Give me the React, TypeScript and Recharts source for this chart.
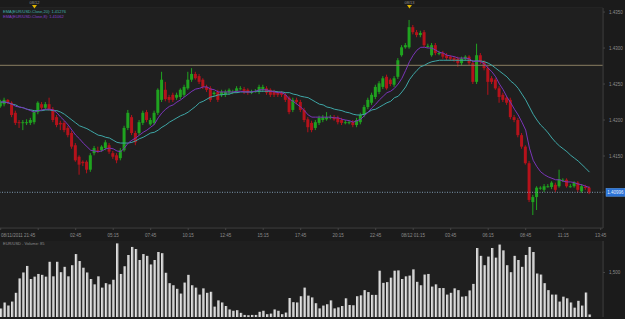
import React from "react";
import {
  ComposedChart,
  BarChart,
  Bar,
  Line,
  XAxis,
  YAxis,
  CartesianGrid,
  ReferenceLine,
} from "recharts";

// EUR/USD 15-minute candles
const opens = [
  1.4219, 1.4222, 1.4228, 1.4224, 1.421, 1.4197, 1.4196, 1.4197, 1.4196, 1.4197,
  1.4211, 1.4222, 1.4217, 1.4222, 1.4215, 1.4204, 1.4196, 1.4196, 1.4189, 1.4182,
  1.4165, 1.4149, 1.4142, 1.4142, 1.4131, 1.4154, 1.4158, 1.4158, 1.4161, 1.4165,
  1.4154, 1.4151, 1.4147, 1.4158, 1.4189, 1.4204, 1.4182, 1.4182, 1.4196, 1.4211,
  1.4194, 1.4196, 1.421, 1.4228, 1.4242, 1.4232, 1.4235, 1.4231, 1.4232, 1.4235,
  1.4244, 1.4256, 1.4264, 1.4261, 1.4256, 1.4246, 1.4244, 1.4236, 1.4239, 1.4235,
  1.4235, 1.4238, 1.4239, 1.424, 1.4244, 1.4243, 1.4242, 1.4239, 1.424, 1.4239,
  1.4242, 1.4244, 1.4242, 1.4239, 1.4238, 1.4238, 1.4235, 1.4231, 1.4214, 1.4228,
  1.4225, 1.4214, 1.4201, 1.4196, 1.4189, 1.4196, 1.42, 1.4201, 1.4204, 1.4204,
  1.4203, 1.42, 1.4197, 1.4197, 1.4197, 1.4193, 1.4197, 1.4207, 1.4218, 1.4224,
  1.4232, 1.4239, 1.4246, 1.426, 1.4256, 1.4249, 1.426, 1.429, 1.4301, 1.4301,
  1.4329, 1.4322, 1.4318, 1.4322, 1.4303, 1.429, 1.4304, 1.4293, 1.4293, 1.429,
  1.4288, 1.4286, 1.4285, 1.4279, 1.4285, 1.4288, 1.4279, 1.4253, 1.429, 1.4281,
  1.4272, 1.4258, 1.4256, 1.4244, 1.4235, 1.4231, 1.4228, 1.4204, 1.42, 1.4179,
  1.4163, 1.414, 1.4086, 1.4093, 1.4106, 1.4103, 1.4108, 1.4107, 1.411, 1.4108,
  1.4117, 1.4117, 1.4108, 1.4108, 1.4113, 1.4101, 1.4107, 1.4106,
];

const highs = [
  1.4228, 1.4231, 1.4229, 1.4226, 1.4213, 1.42, 1.42, 1.4201, 1.4203, 1.4214,
  1.4226, 1.4225, 1.4225, 1.4231, 1.4218, 1.4207, 1.4199, 1.4199, 1.4192, 1.4185,
  1.4168, 1.4151, 1.4144, 1.4144, 1.4154, 1.4164, 1.4163, 1.4165, 1.4172, 1.4168,
  1.4157, 1.4154, 1.4161, 1.4192, 1.4214, 1.4207, 1.4185, 1.42, 1.4213, 1.4214,
  1.4203, 1.4213, 1.4244, 1.4267, 1.4253, 1.4235, 1.4238, 1.4238, 1.4244, 1.4249,
  1.4267, 1.4272, 1.4267, 1.4264, 1.4258, 1.4249, 1.4247, 1.424, 1.4242, 1.4242,
  1.4242, 1.4244, 1.4242, 1.4247, 1.4247, 1.4246, 1.4244, 1.4242, 1.4243, 1.4249,
  1.4249, 1.4247, 1.4244, 1.4242, 1.424, 1.424, 1.4238, 1.4233, 1.4231, 1.4231,
  1.4228, 1.4217, 1.4204, 1.4199, 1.42, 1.4206, 1.4207, 1.4211, 1.4207, 1.4207,
  1.4206, 1.4203, 1.42, 1.42, 1.42, 1.4203, 1.421, 1.4221, 1.4231, 1.4238,
  1.4249, 1.4254, 1.4261, 1.4263, 1.4258, 1.4261, 1.4286, 1.4304, 1.4307, 1.4339,
  1.4332, 1.4325, 1.4324, 1.4325, 1.4306, 1.4307, 1.4307, 1.4296, 1.4296, 1.4293,
  1.429, 1.4289, 1.4288, 1.4288, 1.429, 1.429, 1.4282, 1.4306, 1.4293, 1.4283,
  1.4275, 1.4261, 1.4258, 1.4247, 1.4238, 1.4233, 1.4231, 1.4207, 1.4203, 1.4182,
  1.4165, 1.4143, 1.4096, 1.4108, 1.4108, 1.4111, 1.4111, 1.4115, 1.4113, 1.4131,
  1.4119, 1.4119, 1.4111, 1.4115, 1.4115, 1.4111, 1.411, 1.4108,
];

const lows = [
  1.4217, 1.4219, 1.4222, 1.4204, 1.4193, 1.4189, 1.4186, 1.4193, 1.4193, 1.4194,
  1.4208, 1.4214, 1.4214, 1.4213, 1.4197, 1.419, 1.4186, 1.4183, 1.4176, 1.416,
  1.4142, 1.4124, 1.4136, 1.4126, 1.4128, 1.4151, 1.4154, 1.4156, 1.4158, 1.4153,
  1.4146, 1.414, 1.4144, 1.4156, 1.4186, 1.4179, 1.4165, 1.4179, 1.4193, 1.4197,
  1.4192, 1.4193, 1.4207, 1.4225, 1.4226, 1.4224, 1.4225, 1.4228, 1.4229, 1.4232,
  1.4242, 1.4253, 1.4256, 1.425, 1.4243, 1.4239, 1.4225, 1.4233, 1.4225, 1.4232,
  1.4232, 1.4235, 1.4236, 1.4238, 1.4242, 1.4236, 1.4235, 1.4236, 1.4238, 1.4236,
  1.4239, 1.4235, 1.4232, 1.4232, 1.4232, 1.4232, 1.4225, 1.4208, 1.4211, 1.4222,
  1.4211, 1.4197, 1.4183, 1.4183, 1.4186, 1.4193, 1.4197, 1.4199, 1.4201, 1.4199,
  1.4194, 1.4193, 1.4194, 1.4194, 1.419, 1.419, 1.4194, 1.4204, 1.4215, 1.4221,
  1.4229, 1.4236, 1.4243, 1.4242, 1.4247, 1.4246, 1.4257, 1.4288, 1.4299, 1.4299,
  1.4319, 1.4315, 1.4315, 1.4301, 1.43, 1.4288, 1.429, 1.429, 1.4285, 1.4283,
  1.4282, 1.4281, 1.4274, 1.4276, 1.4282, 1.4276, 1.425, 1.425, 1.4278, 1.4269,
  1.4235, 1.425, 1.4242, 1.4224, 1.4225, 1.4221, 1.4201, 1.4197, 1.4176, 1.416,
  1.4138, 1.4086, 1.4068, 1.4075, 1.4103, 1.41, 1.4106, 1.4104, 1.41, 1.4106,
  1.4114, 1.4106, 1.4106, 1.4106, 1.41, 1.4099, 1.4103, 1.4097,
];

const closes = [
  1.4225, 1.4228, 1.4225, 1.4207, 1.4196, 1.4196, 1.4197, 1.4197, 1.42, 1.4211,
  1.4224, 1.4217, 1.4222, 1.4215, 1.42, 1.4193, 1.4194, 1.4186, 1.4179, 1.4163,
  1.4144, 1.4138, 1.414, 1.4131, 1.4151, 1.4161, 1.4157, 1.4163, 1.4169, 1.4156,
  1.4149, 1.4144, 1.4158, 1.4189, 1.421, 1.4182, 1.4169, 1.4197, 1.421, 1.42,
  1.42, 1.421, 1.4242, 1.4256, 1.4229, 1.4228, 1.4228, 1.4235, 1.4242, 1.4246,
  1.4256, 1.4264, 1.4258, 1.4253, 1.4246, 1.4242, 1.4228, 1.4238, 1.4228, 1.4239,
  1.4239, 1.4242, 1.4239, 1.4244, 1.4244, 1.4239, 1.4238, 1.4239, 1.424, 1.4246,
  1.4246, 1.4238, 1.4235, 1.4235, 1.4235, 1.4235, 1.4228, 1.4211, 1.4228, 1.4225,
  1.4214, 1.42, 1.419, 1.4186, 1.4197, 1.4203, 1.4204, 1.4204, 1.4204, 1.4201,
  1.4197, 1.4196, 1.4197, 1.4197, 1.4193, 1.42, 1.4207, 1.4218, 1.4228, 1.4235,
  1.4246, 1.4251, 1.4258, 1.4244, 1.425, 1.4258, 1.4283, 1.4301, 1.4304, 1.4329,
  1.4322, 1.4318, 1.4321, 1.4304, 1.4303, 1.4304, 1.4293, 1.4293, 1.4288, 1.4286,
  1.4285, 1.4283, 1.4279, 1.4285, 1.4288, 1.4279, 1.4253, 1.429, 1.4281, 1.4272,
  1.4253, 1.4253, 1.4244, 1.4232, 1.4228, 1.4224, 1.4204, 1.42, 1.4179, 1.4163,
  1.414, 1.4089, 1.4093, 1.4106, 1.4106, 1.4108, 1.4108, 1.4113, 1.4103, 1.4118,
  1.4117, 1.4108, 1.4108, 1.4113, 1.4103, 1.4108, 1.4106, 1.40996,
];

// moving averages as drawn on the chart
const ema20 = [
  1.4225, 1.4225, 1.4224, 1.4222, 1.4221, 1.4218, 1.4217, 1.4215, 1.4214, 1.4213,
  1.4213, 1.4213, 1.4214, 1.4214, 1.4213, 1.4213, 1.4211, 1.4208, 1.4204, 1.42,
  1.4196, 1.4192, 1.419, 1.4188, 1.4185, 1.4182, 1.4179, 1.4178, 1.4176, 1.4175,
  1.4172, 1.4169, 1.4168, 1.4168, 1.4168, 1.4169, 1.4171, 1.4174, 1.4176, 1.4179,
  1.4182, 1.4183, 1.4186, 1.419, 1.4193, 1.4197, 1.42, 1.4203, 1.4206, 1.4208,
  1.4211, 1.4215, 1.4219, 1.4224, 1.4226, 1.4229, 1.4232, 1.4233, 1.4235, 1.4235,
  1.4236, 1.4236, 1.4238, 1.4238, 1.4239, 1.4239, 1.4239, 1.4239, 1.424, 1.424,
  1.424, 1.424, 1.424, 1.424, 1.4239, 1.4239, 1.4238, 1.4238, 1.4236, 1.4235,
  1.4233, 1.4232, 1.4231, 1.4228, 1.4225, 1.4222, 1.4221, 1.4218, 1.4217, 1.4215,
  1.4214, 1.4213, 1.4211, 1.421, 1.4208, 1.4207, 1.4207, 1.4208, 1.4211, 1.4214,
  1.4215, 1.4218, 1.4221, 1.4224, 1.4226, 1.4231, 1.4233, 1.4239, 1.4246, 1.4256,
  1.4263, 1.4269, 1.4274, 1.4276, 1.4279, 1.4281, 1.4282, 1.4283, 1.4283, 1.4283,
  1.4283, 1.4283, 1.4283, 1.4283, 1.4283, 1.4283, 1.4282, 1.4282, 1.4282, 1.4281,
  1.4279, 1.4276, 1.4272, 1.4268, 1.4264, 1.426, 1.4254, 1.425, 1.4244, 1.4236,
  1.4228, 1.4218, 1.4208, 1.42, 1.4193, 1.4188, 1.4182, 1.4175, 1.4169, 1.4164,
  1.416, 1.4156, 1.4151, 1.4147, 1.4143, 1.4138, 1.4133, 1.41276,
];

const ema8 = [
  1.4225, 1.4225, 1.4224, 1.4222, 1.4219, 1.4218, 1.4217, 1.4215, 1.4213, 1.4211,
  1.4213, 1.4214, 1.4215, 1.4215, 1.4214, 1.421, 1.4204, 1.4199, 1.4193, 1.4186,
  1.4179, 1.4174, 1.4168, 1.4163, 1.4158, 1.4157, 1.4156, 1.4157, 1.416, 1.4161,
  1.416, 1.4157, 1.4156, 1.4161, 1.4168, 1.4172, 1.4175, 1.4179, 1.4183, 1.4186,
  1.419, 1.4194, 1.4203, 1.421, 1.4215, 1.4219, 1.4221, 1.4225, 1.4228, 1.4232,
  1.4236, 1.424, 1.4243, 1.4244, 1.4246, 1.4246, 1.4243, 1.4242, 1.4239, 1.4239,
  1.4239, 1.4239, 1.4239, 1.424, 1.424, 1.4239, 1.4239, 1.4239, 1.424, 1.4242,
  1.4242, 1.4242, 1.424, 1.4239, 1.4238, 1.4238, 1.4235, 1.4229, 1.4226, 1.4222,
  1.4218, 1.4213, 1.4207, 1.4204, 1.4204, 1.4204, 1.4204, 1.4204, 1.4204, 1.4203,
  1.4203, 1.4201, 1.42, 1.4199, 1.4197, 1.4199, 1.4201, 1.4206, 1.4211, 1.4217,
  1.4222, 1.4228, 1.4233, 1.4238, 1.424, 1.4244, 1.425, 1.4258, 1.4269, 1.4281,
  1.429, 1.4297, 1.4301, 1.4301, 1.43, 1.43, 1.4297, 1.4294, 1.4293, 1.429,
  1.4289, 1.4288, 1.4286, 1.4286, 1.4286, 1.4285, 1.4281, 1.4282, 1.4281, 1.4278,
  1.4272, 1.4267, 1.426, 1.425, 1.4242, 1.4232, 1.4224, 1.4215, 1.4207, 1.4197,
  1.4186, 1.4161, 1.4144, 1.4135, 1.4128, 1.4124, 1.4121, 1.4119, 1.4117, 1.4117,
  1.4115, 1.4114, 1.4114, 1.4113, 1.4111, 1.411, 1.4108, 1.41062,
];

const volumes = [
  290, 490, 385, 520, 815, 1300, 1500, 1720, 1280, 1360,
  1450, 1420, 1360, 1860, 1370, 1860, 1510, 1690, 1370, 1745,
  2120, 1885, 1660, 1500, 1280, 1100, 1370, 990, 1140, 1100,
  1255, 2480, 1450, 1710, 2090, 2360, 2290, 1920, 2120, 2060,
  1770, 1920, 2190, 2150, 1490, 1140, 1070, 950, 790, 1160,
  1420, 1070, 990, 755, 965, 815, 850, 350, 560, 490,
  370, 255, 210, 230, 140, 70, 60, 70, 70, 175,
  210, 95, 115, 255, 210, 95, 150, 640, 500, 490,
  700, 990, 720, 660, 465, 290, 385, 430, 560, 290,
  325, 370, 630, 405, 395, 700, 730, 905, 840, 745,
  745, 1560, 1150, 1175, 1325, 1560, 1570, 1280, 1370, 1395,
  1605, 1185, 1070, 1430, 1450, 1025, 1100, 975, 975, 755,
  815, 965, 905, 685, 700, 895, 1115, 2325, 2060, 1745,
  2035, 2325, 2000, 2440, 2245, 1745, 1510, 2060, 1920, 1690,
  2090, 2360, 2190, 1465, 1430, 1140, 905, 755, 755, 520,
  685, 630, 490, 315, 545, 385, 825, 85,
];

const timeTicks = [0, 10, 20, 30, 40, 50, 60, 70, 80, 90, 100, 110, 120, 130, 140, 150, 160];
const timeLabels = [
  "08/11/2011 21:45", "", "02:45", "05:15", "07:45", "10:15", "12:45", "15:15", "17:45",
  "20:15", "22:45", "08/12 01:15", "03:45", "06:15", "08:45", "11:15", "13:45",
];
const dayTicks = [9, 109];
const dayLabels = ["08/12", "08/13"];
const priceTicks = [1.41, 1.415, 1.42, 1.425, 1.43, 1.435];
const volumeTicks = [0, 1500];
const lastPrice = 1.40996;
const levelPrice = 1.4276;

const BG = "#1b1b1b";
const PLOT = "#1f1f1f";
const GRID = "#2c2c2c";
const TEXT = "#8c8c8c";
const UP = "#1fa31f";
const DOWN = "#b5121b";
const X_DOMAIN: [number, number] = [-0.187, 160.613];
const FONT = "'Liberation Sans', Arial, sans-serif";

const data = closes.map((close, i) => ({
  i,
  open: opens[i],
  high: highs[i],
  low: lows[i],
  close,
  range: [lows[i], highs[i]],
  ema20: ema20[i],
  ema8: ema8[i],
  volume: volumes[i],
}));

function Candle(props: any) {
  const { x, y, width, height, payload } = props;
  if (x == null || y == null) return null;
  const { open, close, high, low } = payload;
  const span = high - low || 1e-9;
  const toY = (v: number) => y + ((high - v) / span) * height;
  const color = close >= open ? UP : DOWN;
  const cx = x + width / 2;
  const top = toY(Math.max(open, close));
  const bottom = toY(Math.min(open, close));
  return (
    <g>
      <line x1={cx} x2={cx} y1={y} y2={y + height} stroke={color} strokeWidth={1} />
      <rect x={x} y={top} width={width} height={Math.max(1, bottom - top)} fill={color} />
    </g>
  );
}

function TimeTick(props: any) {
  const { x, y, payload } = props;
  const idx = timeTicks.indexOf(payload.value);
  const label = idx >= 0 ? timeLabels[idx] : "";
  return (
    <text
      x={payload.value === 0 ? 1 : x}
      y={y + 5}
      fill={TEXT}
      fontSize={4.5}
      fontFamily={FONT}
      textAnchor={payload.value === 0 ? "start" : "middle"}
    >
      {label}
    </text>
  );
}

function DayTick(props: any) {
  const { x, payload } = props;
  const label = dayLabels[dayTicks.indexOf(payload.value)] ?? "";
  return (
    <g>
      <text x={x} y={4} fill={TEXT} fontSize={4} fontFamily={FONT} textAnchor="middle">
        {label}
      </text>
      <path d={`M${x - 2.5},5 L${x + 2.5},5 L${x},8.5 Z`} fill="#e0b400" />
    </g>
  );
}

function PriceTick(props: any) {
  const { x, y, payload } = props;
  // the last-price tag sits over the 1.4100 label, as in the source
  if (Math.abs(payload.value - 1.41) < 1e-6) return null;
  return (
    <text x={x + 2} y={y + 1.5} fill={TEXT} fontSize={4.5} fontFamily={FONT}>
      {payload.value.toFixed(4)}
    </text>
  );
}

function VolumeTick(props: any) {
  const { x, y, payload } = props;
  return (
    <text x={x + 2} y={y + 1.5} fill={TEXT} fontSize={4.5} fontFamily={FONT}>
      {payload.value.toLocaleString("en-US")}
    </text>
  );
}

function PriceTag(props: any) {
  const { viewBox } = props;
  if (!viewBox) return null;
  const x = viewBox.x + viewBox.width + 3;
  const y = viewBox.y;
  return (
    <g>
      <rect x={x} y={y - 4} width={19} height={8} fill="#2a72d6" stroke="#5a9ae8" strokeWidth={0.5} />
      <text x={x + 9.5} y={y + 1.6} fill="#e8f0ff" fontSize={4.5} fontFamily={FONT} textAnchor="middle">
        {lastPrice.toFixed(5)}
      </text>
    </g>
  );
}

export default function App() {
  return (
    <div style={{ position: "absolute", left: 0, top: 0, width: 625, height: 319, background: BG, overflow: "hidden" }}>
      <div style={{ position: "absolute", left: 0, top: 0 }}>
        <ComposedChart width={625} height={241} data={data} margin={{ top: 0, right: 0, bottom: 0, left: 0 }}>
          <rect x={0} y={8} width={603} height={220} fill={PLOT} />
          <CartesianGrid stroke={GRID} strokeWidth={1} />
          <XAxis
            xAxisId="day"
            orientation="top"
            dataKey="i"
            type="number"
            domain={X_DOMAIN}
            ticks={dayTicks}
            height={8}
            axisLine={false}
            tickLine={false}
            tick={<DayTick />}
            interval={0}
          />
          <XAxis
            dataKey="i"
            type="number"
            domain={X_DOMAIN}
            ticks={timeTicks}
            height={13}
            interval={0}
            axisLine={{ stroke: "#3a3a3a" }}
            tickLine={{ stroke: "#444" }}
            tickSize={2}
            tick={<TimeTick />}
          />
          <YAxis
            orientation="right"
            width={22}
            domain={[1.405, 1.43556]}
            ticks={priceTicks}
            allowDataOverflow
            axisLine={{ stroke: "#3a3a3a" }}
            tickLine={{ stroke: "#444" }}
            tickSize={2}
            tick={<PriceTick />}
          />
          <ReferenceLine y={levelPrice} stroke="#8a7f62" strokeWidth={1} />
          <ReferenceLine
            y={lastPrice}
            stroke="#7f9bb3"
            strokeDasharray="1 1.5"
            strokeWidth={1}
            label={<PriceTag />}
          />
          <Bar dataKey="range" barSize={3} shape={<Candle />} isAnimationActive={false} />
          <Line dataKey="ema20" stroke="#3fa7a7" strokeWidth={1} dot={false} isAnimationActive={false} />
          <Line dataKey="ema8" stroke="#7a35b8" strokeWidth={1} dot={false} isAnimationActive={false} />
        </ComposedChart>
      </div>
      <div style={{ position: "absolute", left: 0, top: 241 }}>
        <BarChart width={625} height={78} data={data} margin={{ top: 0, right: 0, bottom: 2, left: 0 }}>
          <defs>
            <linearGradient id="volGrad" x1="0" y1="0" x2="1" y2="0">
              <stop offset="0%" stopColor="#ffffff" />
              <stop offset="100%" stopColor="#9a9a9a" />
            </linearGradient>
          </defs>
          <rect x={0} y={0} width={603} height={76} fill={PLOT} />
          <CartesianGrid stroke={GRID} strokeWidth={1} horizontal={false} />
          <XAxis dataKey="i" type="number" domain={X_DOMAIN} ticks={timeTicks} hide />
          <YAxis
            orientation="right"
            width={22}
            domain={[0, 2560]}
            ticks={volumeTicks}
            axisLine={{ stroke: "#3a3a3a" }}
            tickLine={{ stroke: "#444" }}
            tickSize={2}
            tick={<VolumeTick />}
          />
          <Bar dataKey="volume" barSize={2.5} fill="url(#volGrad)" isAnimationActive={false} />
        </BarChart>
      </div>
      <div style={{ position: "absolute", left: 3, top: 9, fontFamily: FONT, fontSize: 4, lineHeight: "5px" }}>
        <div style={{ color: "#3fb0b0" }}>EMA(EUR/USD.Close,20): 1.41276</div>
        <div style={{ color: "#8a3fd0" }}>EMA(EUR/USD.Close,8): 1.41062</div>
      </div>
      <div style={{ position: "absolute", left: 3, top: 241, fontFamily: FONT, fontSize: 4, color: TEXT }}>
        EUR/USD - Volume: 85
      </div>
    </div>
  );
}
